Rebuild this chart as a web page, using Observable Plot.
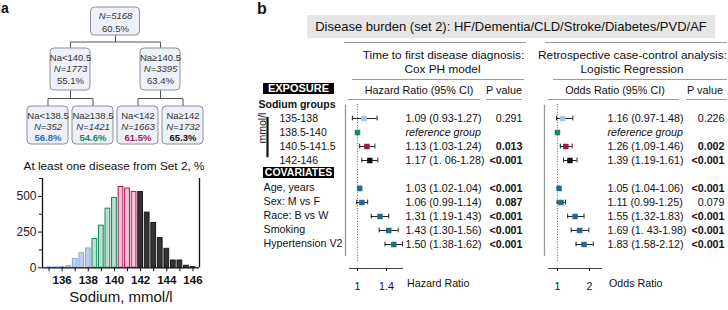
<!DOCTYPE html>
<html><head><meta charset="utf-8">
<script src="https://cdn.jsdelivr.net/npm/d3@7"></script>
<script src="https://cdn.jsdelivr.net/npm/@observablehq/plot@0.6"></script>
<style>
body{margin:0;background:#fff;}
#fig{position:relative;width:728px;height:310px;font-family:"Liberation Sans",Arial,sans-serif;color:#111;overflow:hidden;}
#fig .abs{position:absolute;}
#fig .c{position:absolute;transform:translate(-50%,-50%);white-space:nowrap;}
#fig .rule{position:absolute;height:0;border-top:1px solid #9a9a9a;}
#fig .tag{position:absolute;background:#000;color:#fff;font-weight:bold;text-align:center;white-space:nowrap;}
</style></head>
<body><div id="fig"></div>
<script>
// ---------------- data ----------------
// decision tree (panel a)
const treeLabels = ["", "Na<140.5", "Na\u2265140.5", "Na<138.5", "Na\u2265138.5", "Na<142", "Na\u2265142"];
const treeN      = [5168, 1773, 3395, 352, 1421, 1663, 1732];
const treePct    = [60.5, 55.1, 63.4, 56.8, 54.6, 61.5, 65.3];
const treeParent = [null, 0, 0, 1, 1, 2, 2];
const histTitle = "At least one disease from Set 2, %";

// sodium histogram (panel a)
const sodiumBins   = [135, 135.5, 136, 136.5, 137, 137.5, 138, 138.5, 139, 139.5, 140, 140.5, 141, 141.5, 142, 142.5, 143, 143.5, 144, 144.5, 145, 145.5, 146];
const sodiumCounts = [3, 3, 5, 12, 62, 102, 135, 201, 295, 414, 489, 566, 555, 531, 531, 386, 314, 208, 133, 51, 51, 14, 5];
const groupCuts = [138.5, 140.5, 142];
const histXTicks = [136, 138, 140, 142, 144, 146];
const histYTicks = [0, 250, 500];
const histXLabel = "Sodium, mmol/l";

// forest plots (panel b)
const sodiumGroups = ["135-138", "138.5-140", "140.5-141.5", "142-146"];
const covariates   = ["Age, years", "Sex: M vs F", "Race: B vs W", "Smoking", "Hypertension V2"];
const hrEst  = [1.09, 1.00, 1.13, 1.17, 1.03, 1.06, 1.31, 1.43, 1.50];
const hrLo   = [0.93, null, 1.03, 1.06, 1.02, 0.99, 1.19, 1.30, 1.38];
const hrHi   = [1.27, null, 1.24, 1.28, 1.04, 1.14, 1.43, 1.56, 1.62];
const hrText = ["1.09 (0.93-1.27)", "reference group", "1.13 (1.03-1.24)", "1.17 (1. 06-1.28)", "1.03 (1.02-1.04)", "1.06 (0.99-1.14)", "1.31 (1.19-1.43)", "1.43 (1.30-1.56)", "1.50 (1.38-1.62)"];
const hrP    = ["0.291", "", "0.013", "<0.001", "<0.001", "0.087", "<0.001", "<0.001", "<0.001"];
const hrPBold = [false, false, true, true, true, true, true, true, true];
const orEst  = [1.16, 1.00, 1.26, 1.39, 1.05, 1.11, 1.55, 1.69, 1.83];
const orLo   = [0.97, null, 1.09, 1.19, 1.04, 0.99, 1.32, 1.43, 1.58];
const orHi   = [1.48, null, 1.46, 1.61, 1.06, 1.25, 1.83, 1.98, 2.12];
const orText = ["1.16 (0.97-1.48)", "reference group", "1.26 (1.09-1.46)", "1.39 (1.19-1.61)", "1.05 (1.04-1.06)", "1.11 (0.99-1.25)", "1.55 (1.32-1.83)", "1.69 (1. 43-1.98)", "1.83 (1.58-2.12)"];
const orP    = ["0.226", "", "0.002", "<0.001", "<0.001", "0.079", "<0.001", "<0.001", "<0.001"];
const orPBold = [false, false, true, true, true, false, true, true, true];
const hrTicks = [1, 1.4];
const orTicks = [1, 2];

// ---------------- styles ----------------
const groupFill   = ["#bad0ec", "#bcdfcd", "#f2c0d4", "#333333"];
const groupStroke = ["#86aadb", "#15875d", "#ac1858", "#1a1a1a"];
const groupText   = ["#2a6cc6", "#15875d", "#a8185a", "#111111"];
const rowColor    = ["#a3c6ea", "#17885e", "#9e174f", "#111111", "#1f6c8c", "#1f6c8c", "#1f6c8c", "#1f6c8c", "#1f6c8c"];
const FONT = "Liberation Sans, Arial, sans-serif";
const NARROW = "Liberation Sans Narrow, Arial Narrow, Liberation Sans, sans-serif";
const baseStyle = {background: "transparent", overflow: "visible", fontFamily: FONT, color: "#111"};

const fig = document.getElementById("fig");
function place(node, left, top, w) {
  const d = document.createElement("div");
  d.className = "abs"; d.style.left = left + "px"; d.style.top = top + "px";
  if (w) d.style.width = w + "px";
  d.appendChild(node); fig.appendChild(d); return d;
}
function html(cls, text, css) {
  const d = document.createElement("div"); d.className = cls; d.textContent = text;
  Object.assign(d.style, css); fig.appendChild(d); return d;
}

// ---------------- panel a: tree ----------------
const nodes = treeLabels.map((label, i) => ({i, label, n: treeN[i], pct: treePct[i], parent: treeParent[i]}));
nodes.forEach(d => { d.depth = d.parent == null ? 0 : nodes[d.parent].depth + 1; });
const leaves = nodes.filter(d => !nodes.some(c => c.parent === d.i));
leaves.forEach((d, k) => { d.x = k; d.leaf = k; });
const maxDepth = d3.max(nodes, d => d.depth);
for (let dep = maxDepth - 1; dep >= 0; dep--) {
  nodes.filter(d => d.depth === dep && d.x === undefined)
       .forEach(d => { d.x = d3.mean(nodes.filter(c => c.parent === d.i), c => c.x); });
}
const unitPx = 45;               // px per leaf slot
const boxTop = [7, 48, 106], boxBottom = [35, 90, 144], halfW = [24.5, 20, 20.5];
const links = [];
nodes.filter(d => d.parent != null).forEach(d => {
  const p = nodes[d.parent];
  const mid = (boxBottom[p.depth] + boxTop[d.depth]) / 2;
  [[p.x, boxBottom[p.depth]], [p.x, mid], [d.x, mid], [d.x, boxTop[d.depth]]]
    .forEach(([x, y]) => links.push({id: d.i, x, y}));
});
const treePlot = Plot.plot({
  width: 230, height: 150, margin: 0,
  x: {domain: [0, 3], range: [47.5, 47.5 + 3 * unitPx], axis: null},
  y: {type: "identity", axis: null},
  color: {type: "identity"},
  style: baseStyle,
  marks: [
    Plot.line(links, {x: "x", y: "y", z: "id", stroke: "#555", strokeWidth: 1}),
    Plot.rect(nodes, {x1: d => d.x - halfW[d.depth] / unitPx, x2: d => d.x + halfW[d.depth] / unitPx,
      y1: d => boxTop[d.depth], y2: d => boxBottom[d.depth], fill: "#eef1f7", stroke: "#8b909c", rx: 4}),
    Plot.text(nodes.filter(d => d.label), {x: "x", y: d => boxTop[d.depth] + 9.5, text: "label", fontSize: 9.5, fontFamily: NARROW, fill: "#333"}),
    Plot.text(nodes, {x: "x", y: d => boxTop[d.depth] + (d.label ? 20.5 : 8.5), text: d => "N=" + d.n, fontSize: 9.5, fontStyle: "italic", fontFamily: NARROW, fill: "#333"}),
    Plot.text(nodes.filter(d => d.leaf === undefined), {x: "x", y: d => boxTop[d.depth] + (d.label ? 32 : 21.5), text: d => d.pct.toFixed(1) + "%", fontSize: 9.5, fontFamily: NARROW, fill: "#333"}),
    Plot.text(nodes.filter(d => d.leaf !== undefined), {x: "x", y: d => boxTop[d.depth] + 31.5, text: d => d.pct.toFixed(1) + "%", fontSize: 9.5, fontWeight: "bold", fontFamily: NARROW, fill: d => groupText[d.leaf]})
  ]
});
place(treePlot, 0, 0, 230);

// ---------------- panel a: histogram ----------------
const group = v => groupCuts.filter(c => v >= c).length;
const hist = sodiumBins.map((na, i) => ({na, count: sodiumCounts[i], g: group(na)}));
const histPlot = Plot.plot({
  width: 230, height: 160, marginLeft: 42, marginRight: 31, marginTop: 28, marginBottom: 42.7,
  x: {domain: [134.5, 146.5]},
  y: {domain: [0, 625]},
  color: {type: "identity"},
  style: baseStyle,
  marks: [
    Plot.rectY(hist, {x1: d => d.na - 0.25, x2: d => d.na + 0.25, y: "count", fill: d => groupFill[d.g], stroke: d => groupStroke[d.g], strokeWidth: 1, insetLeft: 0.9, insetRight: 0.9}),
    Plot.ruleX([134.5, 146.5], {stroke: "#111", strokeWidth: 1.3}),
    Plot.ruleY([0], {stroke: "#111", strokeWidth: 1.3}),
    Plot.axisY({ticks: histYTicks, tickSize: 4, tickPadding: 2, fontSize: 12, label: null, fill: "#222"}),
    Plot.axisY({ticks: [125, 375, 625], tickSize: 3, tickFormat: () => "", label: null}),
    Plot.axisX({ticks: d3.range(135, 147), tickSize: 4, tickPadding: 4, fontSize: 11.5, fontWeight: "bold",
      tickFormat: d => histXTicks.includes(d) ? String(d) : "", label: null}),
    Plot.text([histTitle], {frameAnchor: "top", dx: -7, dy: -17, fontSize: 11.8, fill: "#111"}),
    Plot.text([histXLabel], {frameAnchor: "bottom", dy: 33.7, fontSize: 15, fill: "#111"})
  ]
});
place(histPlot, 0, 150, 230);

// ---------------- panel b: forests ----------------
const rowIndex = [0, 1, 2, 3, 5, 6, 7, 8, 9];
function forest({est, lo, hi, text, p, pBold, domain, ticks, axisLabel, width, marginLeft, marginRight, textDx, pDx, labels}) {
  const rows = est.map((e, i) => ({i, row: rowIndex[i], est: e, lo: lo[i], hi: hi[i], text: text[i], p: p[i], bold: pBold[i], color: rowColor[i]}));
  const ci = rows.filter(d => d.lo != null);
  const caps = ci.flatMap(d => [{row: d.row, x: d.lo}, {row: d.row, x: d.hi}]);
  const marks = [
    Plot.ruleX([domain[0]], {dx: -4, y1: -0.95, y2: 9.85, stroke: "#9a9a9a", strokeWidth: 1.3}),
    Plot.ruleX([1], {y1: -1, y2: 10.3, stroke: "#666", strokeDasharray: "1,1.6"}),
    Plot.frame({anchor: "bottom", stroke: "#444"}),
    Plot.axisX({ticks, tickSize: 3, tickPadding: 11, fontSize: 10.7, tickFormat: d => String(d), label: null}),
    Plot.text([axisLabel], {frameAnchor: "bottom-right", dx: textDx + 1.5, dy: 18, textAnchor: "start", fontSize: 10.7}),
    Plot.ruleY(ci, {x1: "lo", x2: "hi", y: "row", stroke: "#222", strokeWidth: 1}),
    Plot.ruleX(caps, {x: "x", y1: d => d.row - 0.17, y2: d => d.row + 0.17, stroke: "#222", strokeWidth: 1}),
    Plot.dot(rows, {x: "est", y: "row", symbol: "square", r: 3.1, fill: "color"}),
    Plot.text(rows.filter(d => d.lo != null), {y: "row", text: "text", frameAnchor: "right", dx: textDx, textAnchor: "start", fontSize: 10.7}),
    Plot.text(rows.filter(d => d.lo == null), {y: "row", text: "text", frameAnchor: "right", dx: textDx, textAnchor: "start", fontSize: 10.7, fontStyle: "italic"}),
    Plot.text(rows.filter(d => d.bold), {y: "row", text: "p", frameAnchor: "right", dx: pDx, textAnchor: "end", fontSize: 10.7, fontWeight: "bold"}),
    Plot.text(rows.filter(d => !d.bold && d.p), {y: "row", text: "p", frameAnchor: "right", dx: pDx, textAnchor: "end", fontSize: 10.7})
  ];
  if (labels) {
    marks.push(
      Plot.text(sodiumGroups.map((s, k) => ({s, row: rowIndex[k]})), {y: "row", text: "s", frameAnchor: "left", dx: -70, textAnchor: "start", fontSize: 10.5}),
      Plot.text(covariates.map((s, k) => ({s, row: rowIndex[k + sodiumGroups.length]})), {y: "row", text: "s", frameAnchor: "left", dx: -86, dy: -1, textAnchor: "start", fontSize: 10.7}),
      Plot.text(["Sodium groups"], {y: -1, frameAnchor: "left", dx: -91, textAnchor: "start", fontSize: 10.5, fontWeight: "bold"}),
      Plot.ruleX([domain[0]], {dx: -78 - 4, y1: -0.08, y2: 2.8, stroke: "#111", strokeWidth: 2.2})
    );
  }
  return Plot.plot({
    width, height: 310, marginLeft, marginRight, marginTop: 0, marginBottom: 42,
    x: {domain, axis: null},
    y: {domain: [-2, 9], range: [90, 244], axis: null},
    color: {type: "identity"},
    style: baseStyle,
    marks
  });
}
place(forest({est: hrEst, lo: hrLo, hi: hrHi, text: hrText, p: hrP, pBold: hrPBold, domain: [0.89, 1.62], ticks: hrTicks,
  axisLabel: "Hazard Ratio", width: 280, marginLeft: 99, marginRight: 128, textDx: 3, pDx: 120, labels: true}), 250, 0, 280);
place(forest({est: orEst, lo: orLo, hi: orHi, text: orText, p: orP, pBold: orPBold, domain: [0.72, 2.375], ticks: orTicks,
  axisLabel: "Odds Ratio", width: 192, marginLeft: 12, marginRight: 127, textDx: 6, pDx: 123, labels: false}), 536, 0, 192);

// ---------------- text / decorations ----------------
html("abs", "a", {left: "1px", top: "0px", fontWeight: "bold", fontSize: "14px", lineHeight: "16px"});
html("abs", "b", {left: "257px", top: "1px", fontWeight: "bold", fontSize: "16px", lineHeight: "16px"});
html("abs", "Disease burden (set 2): HF/Dementia/CLD/Stroke/Diabetes/PVD/AF",
  {left: "307px", top: "15px", width: "408px", height: "23px", lineHeight: "23px", background: "#e6e6e6", textAlign: "center", fontSize: "13px", whiteSpace: "nowrap"});
[[344, 42, 182], [545, 42, 182], [352, 79, 172], [553, 79, 174], [348, 99, 132], [486, 99, 36], [548, 99, 131], [686, 99, 41]]
  .forEach(([l, t, w]) => html("rule", "", {left: l + "px", top: t + "px", width: w + "px"}));
html("c", "Time to first disease diagnosis:", {left: "443.5px", top: "55px", fontSize: "11.8px"});
html("c", "Cox PH model", {left: "442.5px", top: "68.5px", fontSize: "11.8px"});
html("c", "Retrospective case-control analysis:", {left: "632.5px", top: "55px", fontSize: "11.8px"});
html("c", "Logistic Regression", {left: "632px", top: "68.5px", fontSize: "11.8px"});
html("c", "Hazard Ratio (95% CI)", {left: "419px", top: "89.5px", fontSize: "10.8px"});
html("c", "P value", {left: "504px", top: "89.5px", fontSize: "10.8px"});
html("c", "Odds Ratio (95% CI)", {left: "615px", top: "89.5px", fontSize: "10.8px"});
html("c", "P value", {left: "705px", top: "89.5px", fontSize: "10.8px"});
html("tag", "EXPOSURE", {left: "263px", top: "83px", width: "71px", height: "11px", lineHeight: "11px", fontSize: "11px"});
html("tag", "COVARIATES", {left: "263px", top: "167px", width: "71px", height: "11px", lineHeight: "11px", fontSize: "10.5px"});
html("c", "mmol/l", {left: "262px", top: "128px", fontSize: "10.5px", transform: "translate(-50%,-50%) rotate(-90deg)"});
</script></body></html>
